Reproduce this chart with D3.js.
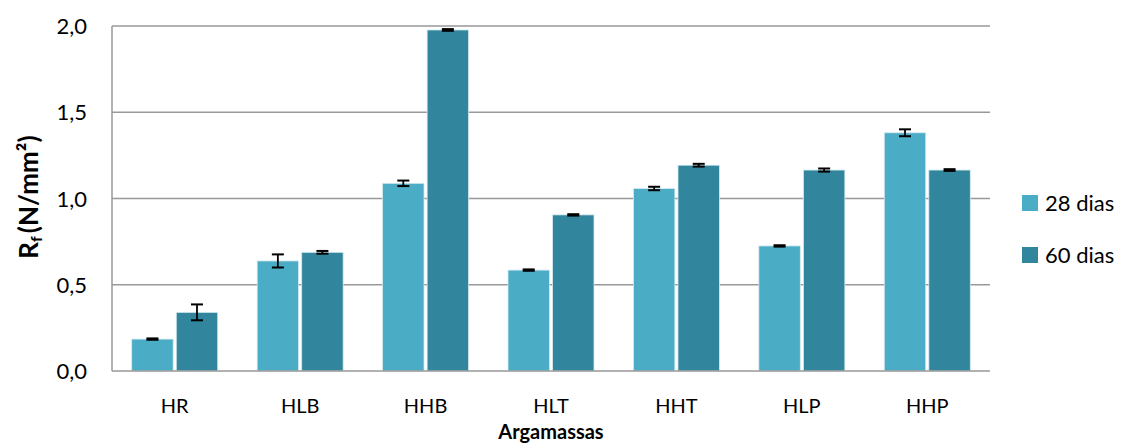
<!DOCTYPE html>
<html><head><meta charset="utf-8">
<script src="https://cdn.jsdelivr.net/npm/d3@7"></script>
<style>body{margin:0;background:#fff}svg{display:block}text{font-family:Lato,"Open Sans",sans-serif}</style>
</head><body>
<svg id="c" width="1122" height="444"></svg>
<script>
const categories = ["HR","HLB","HHB","HLT","HHT","HLP","HHP"];
const series = ["28 dias","60 dias"];
const values28 = [0.185,0.638,1.088,0.585,1.058,0.725,1.381];
const values60 = [0.340,0.688,1.977,0.905,1.193,1.165,1.165];
const err28 = [0.004,0.038,0.016,0.004,0.010,0.004,0.020];
const err60 = [0.046,0.008,0.005,0.004,0.008,0.009,0.005];
const yTicks = [0,0.5,1.0,1.5,2.0];
const colors = ["#4BACC6","#31859C"];

const svg = d3.select("#c");
const m = {l:112,r:990,t:26,b:371};
const x = d3.scaleBand().domain(categories).range([m.l,m.r]);
const y = d3.scaleLinear().domain([0,2]).range([m.b,m.t]);
const sub = d3.scaleBand().domain(series).range([-43,43]).paddingInner(0.07);

// grid
svg.append("g").selectAll("line").data(yTicks.filter(d=>d>0)).join("line")
  .attr("x1",m.l).attr("x2",m.r).attr("y1",d=>y(d)).attr("y2",d=>y(d))
  .attr("stroke","#999").attr("stroke-width",1.5);

// y tick labels
const yAxis = d3.axisLeft(y).tickValues(yTicks).tickSize(0).tickPadding(0)
  .tickFormat(d=>d3.format(".1f")(d).replace(".",","));
const ga = svg.append("g").attr("transform",`translate(${m.l-25},0)`).call(yAxis);
ga.select(".domain").remove();
ga.selectAll("text").attr("font-size",22).attr("fill","#000").attr("dy","0.35em").attr("font-family","Lato,'Open Sans',sans-serif");

const rows = categories.map((c,i)=>({c,v:[values28[i],values60[i]],e:[err28[i],err60[i]]}));
const grp = svg.append("g").selectAll("g").data(rows).join("g")
  .attr("transform",d=>`translate(${x(d.c)+x.bandwidth()/2},0)`);
grp.selectAll("rect").data(d=>d.v.map((v,j)=>({v,j,s:series[j]}))).join("rect")
  .attr("x",d=>sub(d.s)).attr("width",sub.bandwidth())
  .attr("y",d=>y(d.v)).attr("height",d=>y(0)-y(d.v))
  .attr("fill",d=>colors[d.j]).attr("stroke","#d6eaf0").attr("stroke-width",0.8);

// error bars
const eb = grp.selectAll("g.eb").data(d=>d.v.map((v,j)=>({v,e:d.e[j],s:series[j]}))).join("g").attr("class","eb")
  .attr("transform",d=>`translate(${sub(d.s)+sub.bandwidth()/2},0)`);
eb.append("line").attr("y1",d=>y(d.v+d.e)).attr("y2",d=>y(d.v-d.e)).attr("stroke","#000").attr("stroke-width",1.8);
eb.append("line").attr("x1",-6).attr("x2",6).attr("y1",d=>y(d.v+d.e)).attr("y2",d=>y(d.v+d.e)).attr("stroke","#000").attr("stroke-width",2);
eb.append("line").attr("x1",-6).attr("x2",6).attr("y1",d=>y(d.v-d.e)).attr("y2",d=>y(d.v-d.e)).attr("stroke","#000").attr("stroke-width",2);

// axes lines
svg.append("line").attr("x1",m.l).attr("x2",m.l).attr("y1",m.t).attr("y2",m.b).attr("stroke","#999").attr("stroke-width",1.5);
svg.append("line").attr("x1",m.l).attr("x2",m.r).attr("y1",m.b).attr("y2",m.b).attr("stroke","#999").attr("stroke-width",1.5);

// x labels
const xAxis = d3.axisBottom(x).tickSize(0).tickPadding(0);
const gx = svg.append("g").attr("transform",`translate(0,${m.b})`).call(xAxis);
gx.select(".domain").remove();
gx.selectAll("text").attr("font-size",20).attr("fill","#000").attr("dy",0).attr("y",42).attr("font-family","Lato,'Open Sans',sans-serif");

svg.append("text").attr("x",(m.l+m.r)/2).attr("y",439).attr("text-anchor","middle")
  .attr("font-size",20).attr("font-weight","bold").text("Argamassas");

const yt = svg.append("text").attr("transform",`translate(38,197) rotate(-90)`).attr("text-anchor","middle")
  .attr("font-size",26).attr("font-weight","bold");
yt.append("tspan").text("R");
yt.append("tspan").attr("font-size",16).attr("dy",4).text("f");
yt.append("tspan").attr("dy",-4).attr("dx",3).text("(N/mm²)");

// legend
const lg = svg.append("g").selectAll("g").data(series).join("g")
  .attr("transform",(d,i)=>`translate(1022,${195+i*52})`);
lg.append("rect").attr("width",16).attr("height",16).attr("fill",(d,i)=>colors[i]);
lg.append("text").attr("x",23).attr("y",8).attr("dy","0.35em").attr("font-size",22).text(d=>d);
</script>
</body></html>
